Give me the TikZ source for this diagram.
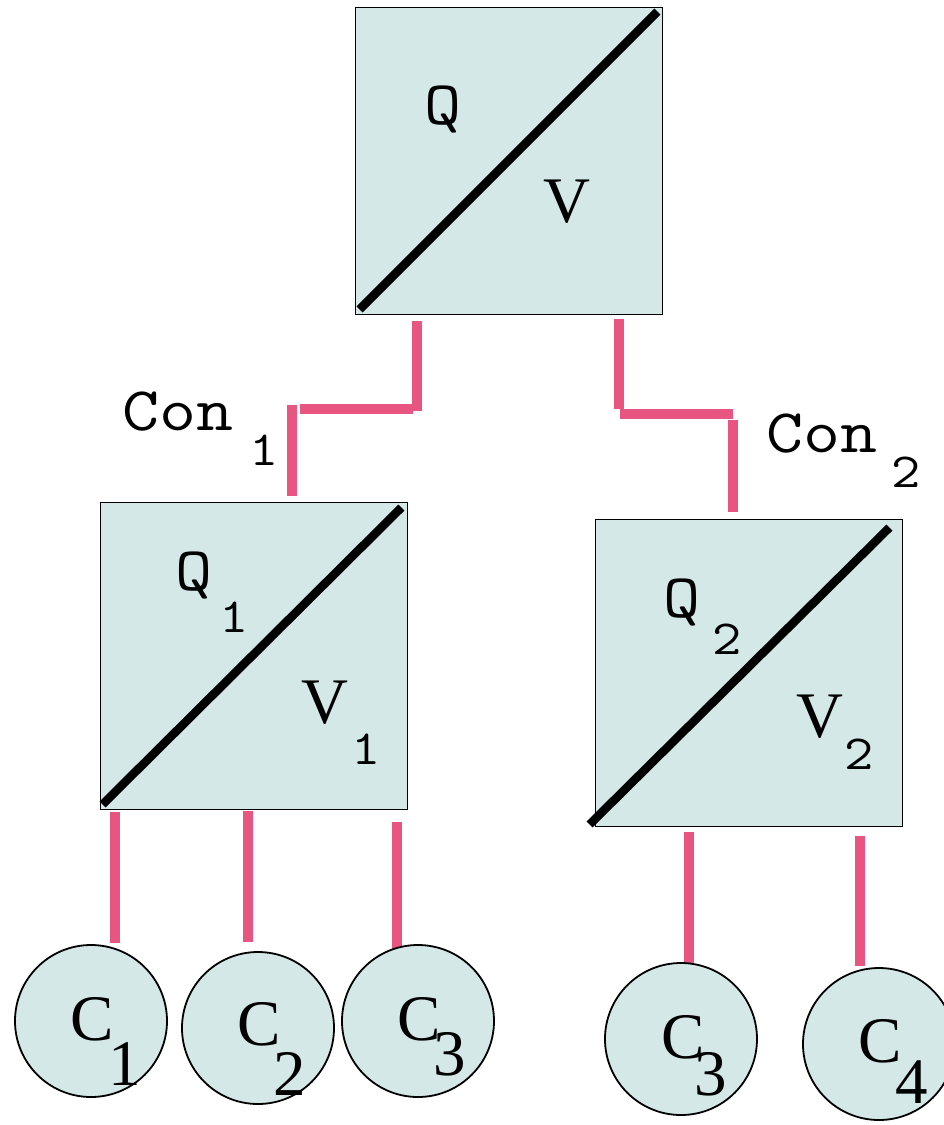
\documentclass[tikz,border=0pt]{standalone}
\usepackage{fontspec}
\setmainfont{Liberation Serif}
\setmonofont{Latin Modern Mono}[FakeStretch=1.16]
\usetikzlibrary{positioning,calc}
\definecolor{cellfill}{RGB}{212,232,232}
\definecolor{linkpink}{RGB}{232,85,128}

\begin{document}
\begin{tikzpicture}[
    x=1pt, y=1pt,
    every node/.style={inner sep=0pt},
    unit/.style={draw, line width=1.8pt, fill=cellfill, rectangle, minimum size=307pt},
    chunk/.style={draw, line width=1.8pt, fill=cellfill, circle, minimum size=152pt},
    split/.style={line width=8.5pt},
    wire/.style={linkpink, line width=10pt},
    bigtxt/.style={anchor=base, font=\fontsize{65}{65}\selectfont},
    ttxt/.style={anchor=base, font=\ttfamily\fontsize{62}{62}\selectfont},
    tsub/.style={anchor=base, font=\ttfamily\fontsize{49}{49}\selectfont}
]
\useasboundingbox (0,0) rectangle (944,-1125);

% Boxes
\node[unit] (top) at (509,-161) {};
\node[unit] (left) at (254,-656) {};
\node[unit] (right) at (749,-673) {};

% Diagonals
\draw[split] ($(top.south west)+(5,6)$) -- ($(top.north east)+(-6,-5)$);
\draw[split] ($(left.south west)+(3,6)$) -- ($(left.north east)+(-7,-6)$);
\draw[split] ($(right.south west)+(-5,3)$) -- ($(right.north east)+(-14,-9)$);

% Links between boxes
\draw[wire] ($(top.south)+(-92,-6)$) -- ++(0,-90);
\draw[wire] ($(top.south)+(-96,-93.5)$) -- ++(-113,0);
\draw[wire] ($(left.north)+(38,5.5)$) -- ++(0,91);
\draw[wire] ($(top.south)+(110,-4)$) -- ++(0,-90);
\draw[wire] ($(top.south)+(111,-98.5)$) -- ++(113,0);
\draw[wire] ($(right.north)+(-16,6.5)$) -- ++(0,92);

% Links down to the leaves
\draw[wire] ($(left.south)+(-139,-1.5)$) -- ++(0,-131);
\draw[wire] ($(left.south)+(-6,-1)$) -- ++(0,-131);
\draw[wire] ($(left.south)+(143,-11.5)$) -- ++(0,-127);
\draw[wire] ($(right.south)+(-60,-5)$) -- ++(0,-131);
\draw[wire] ($(right.south)+(111,-9)$) -- ++(0,-130);

% Leaves
\node[chunk] (c1) at (91,-1021) {};
\node[chunk] (c2) at (258,-1028) {};
\node[chunk] (c3) at (418,-1021) {};
\node[chunk] (c3r) at (681,-1039) {};
\node[chunk] (c4) at (879,-1044) {};

% Box labels
\node[ttxt] (qtop) at (443,-124) {Q};
\node[bigtxt] (vtop) at (567,-222) {V};
\node[ttxt] (qone) at (194,-590) {Q};
\node[tsub] (qonesub) at (234,-632) {1};
\node[bigtxt] (vone) at (325,-723) {V};
\node[tsub] (vonesub) at (366,-764) {1};
\node[ttxt] (qtwo) at (682,-617) {Q};
\node[tsub] (qtwosub) at (727,-654) {2};
\node[bigtxt] (vtwo) at (820,-737) {V};
\node[tsub] (vtwosub) at (859,-769) {2};

% Link labels
\node[ttxt] (conone) at (178,-430) {Con};
\node[tsub] (cononesub) at (264,-465) {1};
\node[ttxt] (contwo) at (822,-452) {Con};
\node[tsub] (contwosub) at (906,-487) {2};

% Leaf labels
\node[bigtxt] (c1txt) at (92,-1040) {C};
\node[bigtxt] (c1sub) at (125,-1085) {1};
\node[bigtxt] (c2txt) at (259,-1045) {C};
\node[bigtxt] (c2sub) at (290,-1095) {2};
\node[bigtxt] (c3txt) at (419,-1040) {C};
\node[bigtxt] (c3sub) at (450,-1075) {3};
\node[bigtxt] (c3rtxt) at (683,-1058) {C};
\node[bigtxt] (c3rsub) at (711,-1095) {3};
\node[bigtxt] (c4txt) at (880,-1062) {C};
\node[bigtxt] (c4sub) at (912,-1103) {4};

\end{tikzpicture}
\end{document}
